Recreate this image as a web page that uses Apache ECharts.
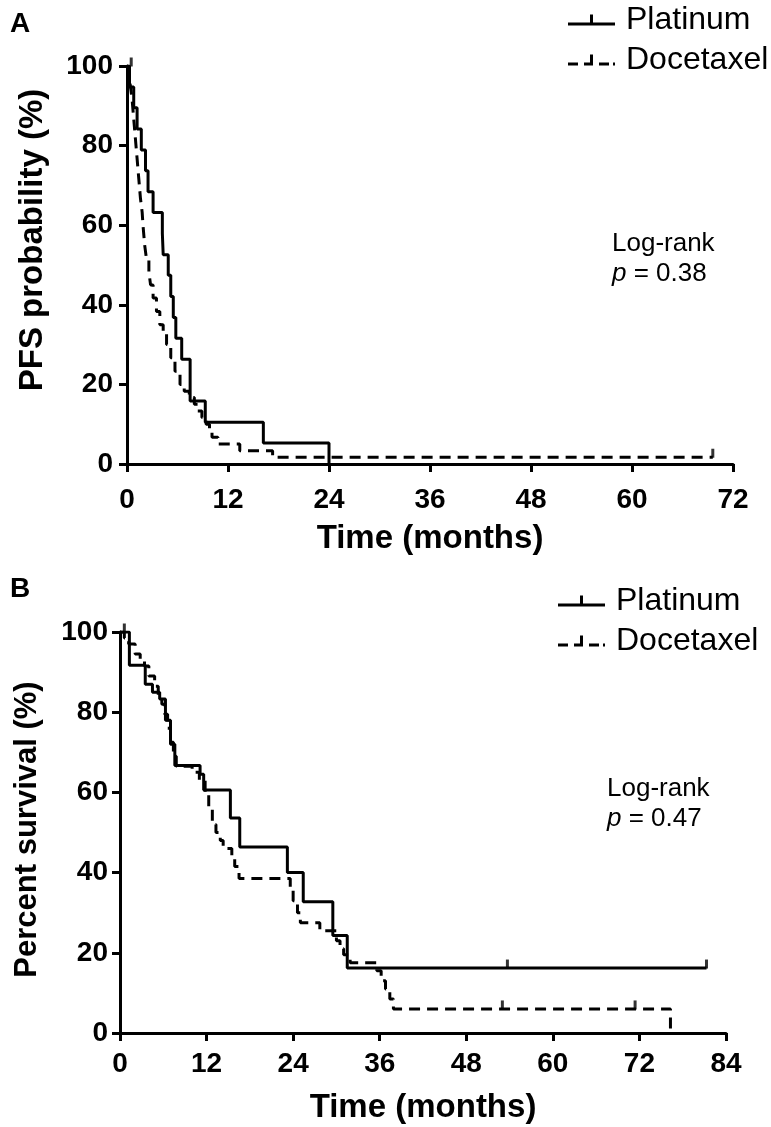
<!DOCTYPE html>
<html>
<head>
<meta charset="utf-8">
<script src="https://cdn.jsdelivr.net/npm/echarts@6/dist/echarts.min.js"></script>
<style>
html,body{margin:0;padding:0;background:#fff;}
#chart{width:771px;height:1127px;}
</style>
</head>
<body>
<div id="chart"></div>
<script>
// x ticks (months) and y ticks (%)
var xTicksA = [0, 12, 24, 36, 48, 60, 72];
var xTicksB = [0, 12, 24, 36, 48, 60, 72, 84];
var yTicks = [0, 20, 40, 60, 80, 100];

// A: PFS, [month, %]
var pfsPlatinum = [[0,100],[0.3,94.7],[0.8,89.5],[1.2,84.2],[1.7,78.9],[2.2,73.7],[2.5,68.4],[3.1,63.2],
	[4.2,57.9],[4.3,52.6],[4.9,47.4],[5.2,42.1],[5.5,36.8],[5.8,31.6],[6.5,26.3],[7.5,15.8],[9.3,10.5],
	[16.2,5.3],[24,0]];
var pfsDocetaxel = [[0,100],[0.2,98.3],[0.4,95],[0.6,91.7],[0.8,86.7],[1.0,81.7],[1.2,76.7],[1.4,71.7],
	[1.6,66.7],[1.8,63.3],[1.9,60],[2.1,55],[2.3,51.7],[2.6,48.3],[2.8,45],[3.1,41.7],[3.5,38.3],[3.9,35],
	[4.3,33.3],[4.7,30],[5.2,26.7],[5.7,23.3],[6.3,20],[6.8,18.3],[7.4,16.7],[8.0,15],[8.4,13.3],[8.9,11.7],
	[9.4,10],[9.8,8.3],[10.1,6.7],[10.8,5],[13.4,3.3],[17.3,1.7],[69.6,1.7]];
var pfsPlatinumCensor = [[0.5,100]];
var pfsDocetaxelCensor = [[69.6,1.7]];

// B: overall survival, [month, %]
var osPlatinum = [[0,100],[1.3,91.7],[3.5,87],[4.5,85],[5.5,83.3],[6.3,78],[7.0,72],[7.6,66.7],[11.1,64.5],
	[11.6,60.6],[15.3,53.6],[16.6,46.4],[23.2,40],[25.4,32.7],[29.5,24.3],[31.5,16.2],[81.3,16.2]];
var osDocetaxel = [[0,100],[0.6,98.5],[1.2,97],[2.1,94.5],[2.8,93],[3.4,91.5],[4.0,89],[4.8,86.5],
	[5.3,84],[5.8,82],[6.2,79.5],[6.6,76],[7.0,72.5],[7.4,69],[7.8,66.5],[10.0,65],[11.0,63],[11.8,60],
	[12.3,56],[12.8,52],[13.3,50],[13.9,48],[14.3,46],[15.5,44],[15.9,41.5],[16.5,38.5],[23.6,36],[24.0,33],
	[24.6,30],[25.0,27.5],[27.7,25.5],[30.0,23],[30.5,21],[31.0,19.5],[31.9,17.5],[35.6,15.5],[36.2,13],
	[36.8,11],[37.4,8.5],[37.9,6],[76.3,6],[76.3,0]];
var osPlatinumCensor = [[0.6,100],[53.7,16.2],[81.3,16.2]];
var osDocetaxelCensor = [[53,6],[71.4,6]];

var FONT = "Liberation Sans, Arial, sans-serif";
var ICON_SOLID = "path://M0,10h47v3h-47z M22,2h3v9h-3z";
var ICON_DASH = "path://M0,10h10v3h-10z M16,10h9v3h-9z M22,2h3v9h-3z M31,10h10v3h-10z M45,10h2v3h-2z";

var chart = echarts.init(document.getElementById("chart"));

function xAxis(gi, max, margin){
	return {
		type: "value", gridIndex: gi, min: 0, max: max, interval: 12,
		name: "Time (months)", nameLocation: "middle", nameGap: 58,
		nameTextStyle: {fontFamily: FONT, fontWeight: "bold", fontSize: 33, color: "#000"},
		axisLine: {lineStyle: {color: "#000", width: 3}},
		axisTick: {length: 8, lineStyle: {width: 3}},
		axisLabel: {fontFamily: FONT, fontWeight: "bold", fontSize: 28, color: "#000", margin: margin},
		splitLine: {show: false}
	};
}
function yAxis(gi, name, gap, margin, shift, size){
	return {
		type: "value", gridIndex: gi, min: 0, max: 100, interval: 20,
		name: name, nameLocation: "middle", nameGap: gap,
		nameTextStyle: {fontFamily: FONT, fontWeight: "bold", fontSize: size, color: "#000", padding: [0, 0, 0, shift]},
		axisLine: {show: true, lineStyle: {color: "#000", width: 3}},
		axisTick: {show: true, length: 8, lineStyle: {width: 3}},
		axisLabel: {fontFamily: FONT, fontWeight: "bold", fontSize: 28, color: "#000", margin: margin},
		splitLine: {show: false}
	};
}
function curve(name, data, idx, dashed){
	return {
		name: name, type: "line", step: "end", data: data, xAxisIndex: idx, yAxisIndex: idx,
		symbol: "none", color: "#000", animation: false,
		lineStyle: {color: "#000", width: 3, type: dashed ? [11, 7] : "solid"}
	};
}
function censor(name, data, idx){
	return {
		name: name, type: "scatter", data: data, xAxisIndex: idx, yAxisIndex: idx,
		symbol: "rect", symbolSize: [3, 9], symbolOffset: [0, -4],
		itemStyle: {color: "#000"}, animation: false, silent: true
	};
}
function legend(left, top){
	return {
		left: left, top: top, orient: "vertical", itemWidth: 47, itemHeight: 14, itemGap: 8,
		selectedMode: false,
		textStyle: {fontFamily: FONT, fontSize: 32, color: "#000", padding: [0, 0, 0, 6]},
		itemStyle: {borderWidth: 0},
		data: [{name: "Platinum", icon: ICON_SOLID}, {name: "Docetaxel", icon: ICON_DASH}]
	};
}
function logrank(x, y, p){
	return {
		type: "text", left: x, top: y,
		style: {
			text: "Log-rank\n{i|p} = " + p, fontFamily: FONT, fontSize: 26, fill: "#000", lineHeight: 30,
			rich: {i: {fontStyle: "italic", fontFamily: FONT, fontSize: 26}}
		}
	};
}

var option = {
	backgroundColor: "#fff",
	animation: false,
	grid: [
		{left: 127, right: 38, top: 66, bottom: 663},
		{left: 120, right: 45, top: 632, bottom: 94}
	],
	xAxis: [xAxis(0, 72, 22), xAxis(1, 84, 17)],
	yAxis: [yAxis(0, "PFS probability (%)", 78, 14, 50, 33), yAxis(1, "Percent survival (%)", 77, 12, 6, 31)],
	legend: [legend(563, -1), legend(553, 580)],
	series: [
		curve("Platinum", pfsPlatinum, 0, false),
		curve("Docetaxel", pfsDocetaxel, 0, true),
		censor("pfsPlatinumCensor", pfsPlatinumCensor, 0),
		censor("pfsDocetaxelCensor", pfsDocetaxelCensor, 0),
		curve("Platinum", osPlatinum, 1, false),
		curve("Docetaxel", osDocetaxel, 1, true),
		censor("osPlatinumCensor", osPlatinumCensor, 1),
		censor("osDocetaxelCensor", osDocetaxelCensor, 1)
	],
	graphic: [
		{type: "text", left: 10, top: 10, style: {text: "A", fontFamily: FONT, fontWeight: "bold", fontSize: 28, fill: "#000"}},
		{type: "text", left: 10, top: 575, style: {text: "B", fontFamily: FONT, fontWeight: "bold", fontSize: 28, fill: "#000"}},
		logrank(612, 229, "0.38"),
		logrank(607, 774, "0.47")
	]
};
chart.setOption(option);
</script>
</body>
</html>
